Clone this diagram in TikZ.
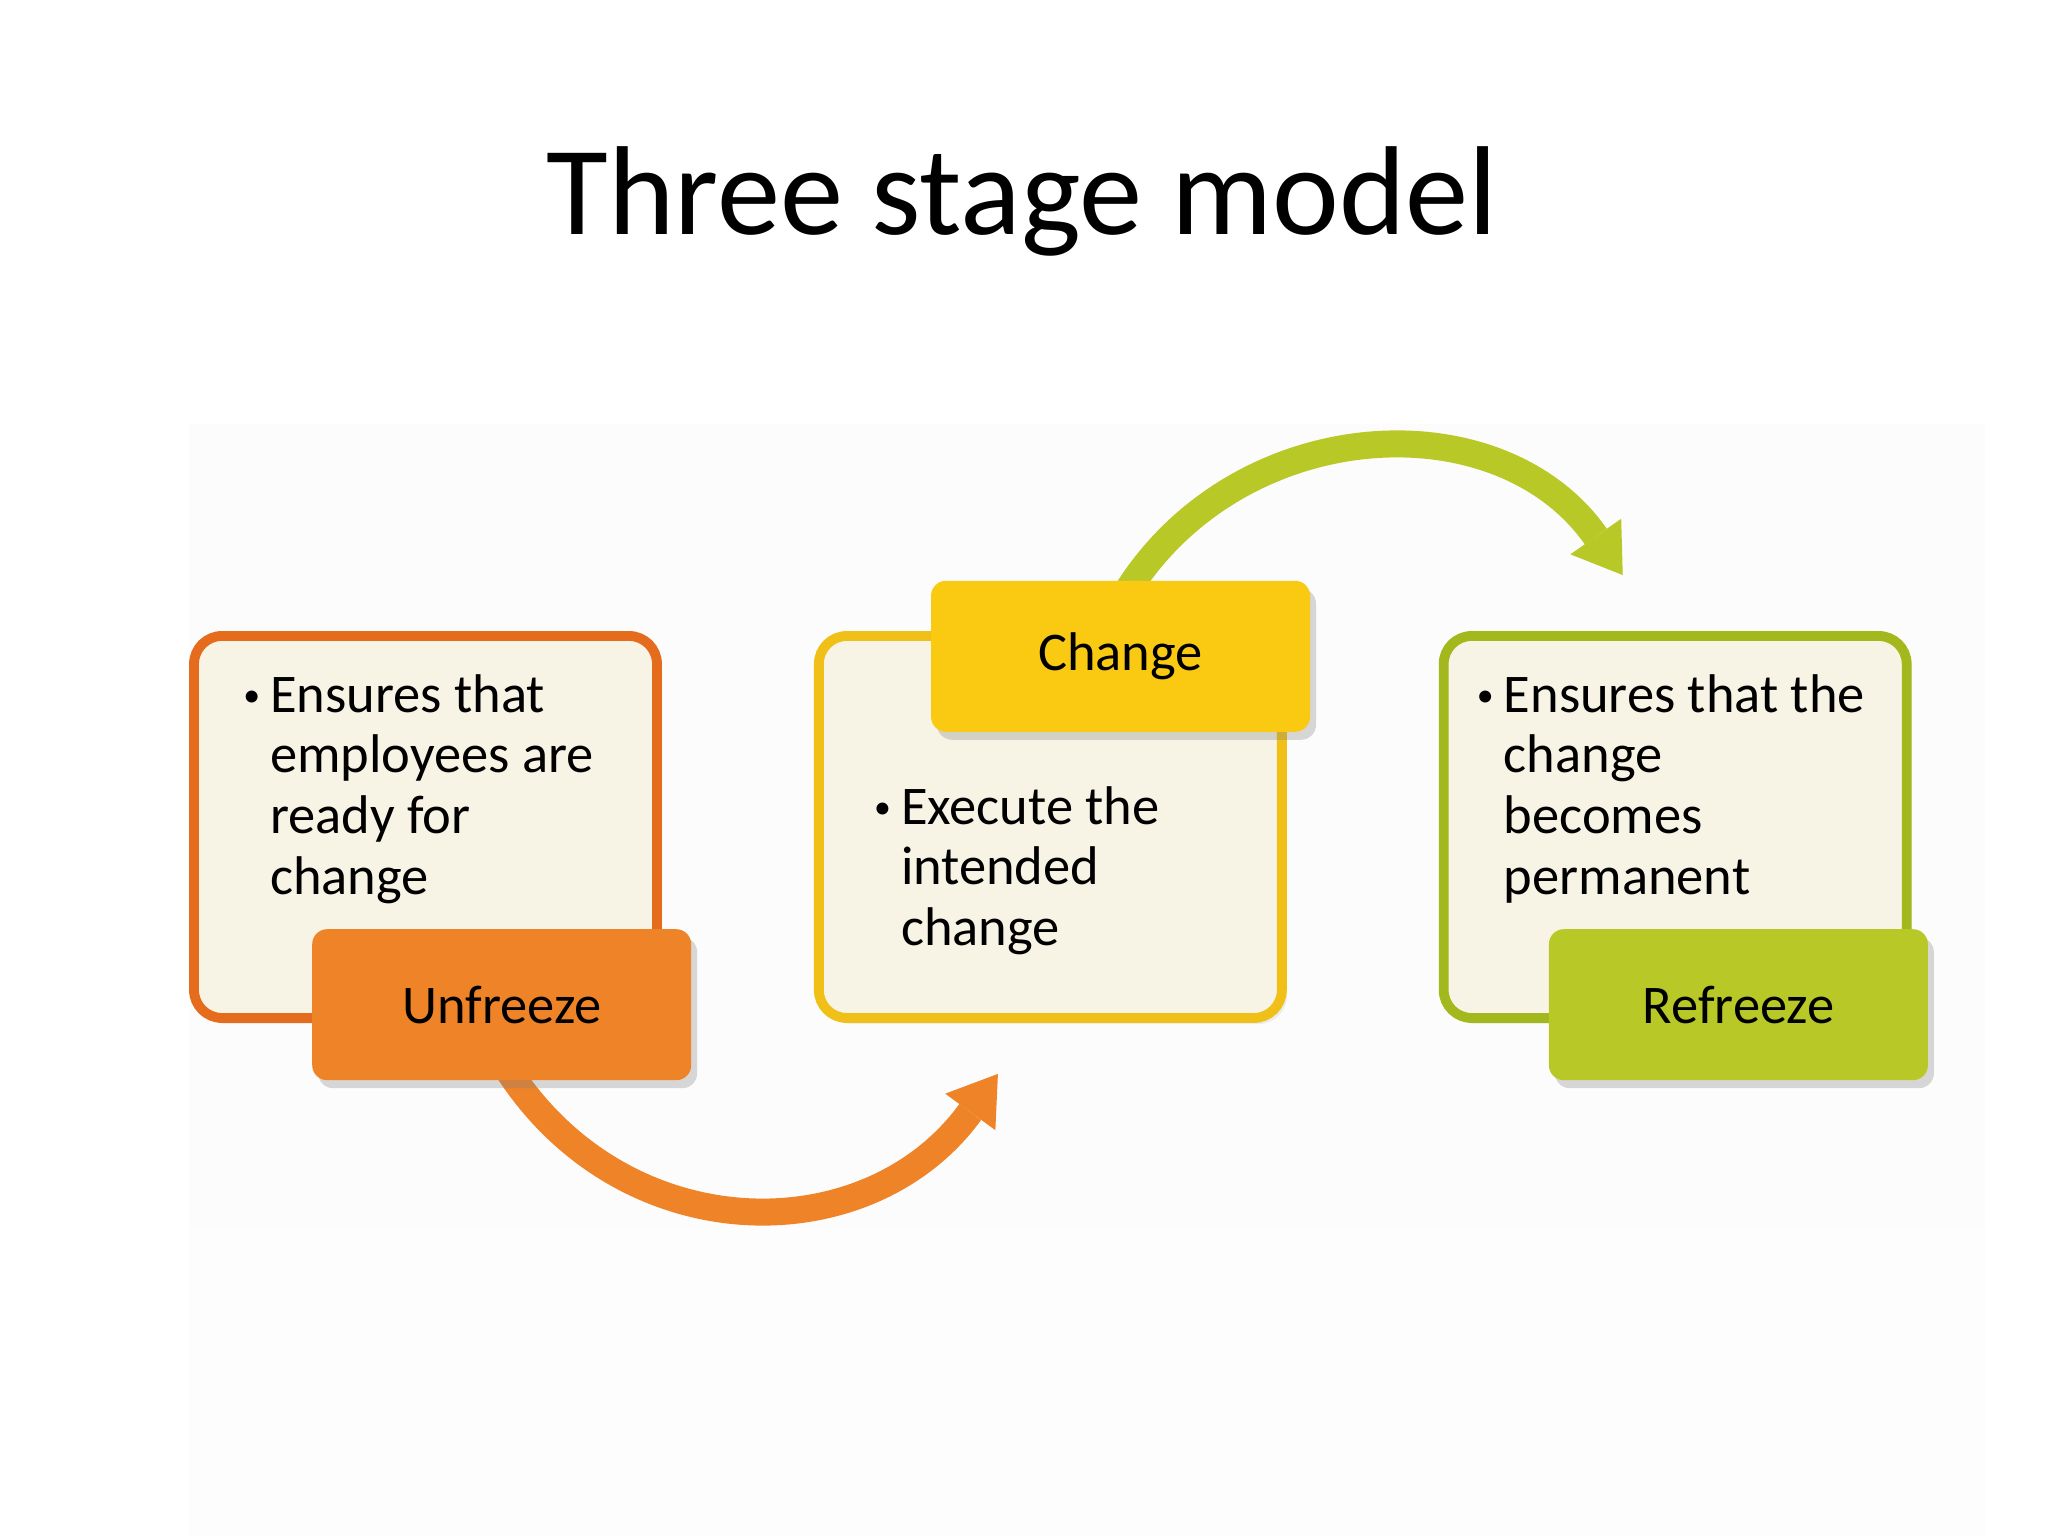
\documentclass[tikz,border=0pt]{standalone}
\usepackage{fontspec}
\usepackage{graphicx}
\setmainfont{Carlito}
\usetikzlibrary{arrows.meta,positioning,shadows,backgrounds}
\definecolor{ufline}{RGB}{229,108,28}
\definecolor{uffill}{RGB}{239,131,40}
\definecolor{chline}{RGB}{240,192,24}
\definecolor{chfill}{RGB}{250,202,18}
\definecolor{rfline}{RGB}{163,184,28}
\definecolor{rffill}{RGB}{184,200,38}
\definecolor{cream}{RGB}{247,243,229}
\newcommand{\bpoint}[1]{\makebox[0.334cm][l]{\hspace{0.065cm}\raisebox{0.1em}{\scalebox{0.62}{\textbullet}}}\parbox[t]{4cm}{#1}}

\begin{document}
\begin{tikzpicture}[
    stagebox/.style={rectangle, line width=2.8pt, rounded corners=0.28cm, fill=cream,
                     minimum width=4.63cm, minimum height=3.82cm, inner sep=0pt,
                     drop shadow={opacity=0.12, shadow xshift=0.05cm, shadow yshift=-0.06cm}},
    stagetag/.style={rectangle, rounded corners=0.15cm, minimum width=3.79cm, minimum height=1.51cm,
                     inner sep=0pt, font=\fontsize{15.5}{17.3}\selectfont,
                     drop shadow={opacity=0.3, shadow xshift=0.06cm, shadow yshift=-0.08cm}},
    bullettext/.style={inner sep=0pt, anchor=base west, font=\fontsize{15.5}{17.3}\selectfont},
    flowarrow/.style={line width=0.27cm, -{Triangle[width=0.62cm,length=0.47cm,line width=0pt]}}
]
\useasboundingbox (0,0) rectangle (20.48,15.36);
% faint backdrop
\begin{scope}[on background layer]
  \fill[white] (0,0) rectangle (20.48,15.36);
  \fill[black!0.6] (1.89,0) rectangle (19.85,3.08);
  \fill[black!1.3] (1.89,3.08) rectangle (19.85,11.12);
\end{scope}

\node[anchor=base, font=\fontsize{36}{40}\selectfont] (title) at (10.22,13.01) {Three stage model};

% the three stages
\node[stagebox, draw=ufline] (ufbox) at (4.255,7.09) {};
\node[stagebox, draw=chline, right=1.52cm of ufbox] (chbox) {};
\node[stagebox, draw=rfline, right=1.52cm of chbox] (rfbox) {};

\node[bullettext] (uftext) at ([shift={(0.47,-0.81)}]ufbox.north west) {\bpoint{Ensures that\\employees are\\ready for\\change}};
\node[bullettext] (chtext) at ([shift={(0.53,-1.93)}]chbox.north west) {\bpoint{Execute the\\intended\\change}};
\node[bullettext] (rftext) at ([shift={(0.31,-0.81)}]rfbox.north west) {\bpoint{Ensures that the\\change\\becomes\\permanent}};

\node[stagetag, fill=uffill, anchor=south east] (unfreeze) at ([xshift=0.30cm,yshift=-0.58cm]ufbox.south east) {Unfreeze};
\node[stagetag, fill=chfill, anchor=north east] (change) at ([xshift=0.24cm,yshift=0.51cm]chbox.north east) {Change};
\node[stagetag, fill=rffill, anchor=south east] (refreeze) at ([xshift=0.17cm,yshift=-0.58cm]rfbox.south east) {Refreeze};

% curved arrows between stages
\coordinate (uftip) at ([shift={(1.84,-0.51)}]chbox.south west);
\coordinate (chtip) at ([shift={(1.84,0.56)}]rfbox.north west);
\begin{scope}[on background layer]
  \draw[flowarrow, draw=uffill] ([yshift=0.21cm]unfreeze.south) to[out=-59, in=234, looseness=1.15] (uftip);
  \draw[flowarrow, draw=rffill] ([yshift=-0.22cm]change.north) to[out=60, in=125, looseness=1.11] (chtip);
\end{scope}
\end{tikzpicture}
\end{document}
